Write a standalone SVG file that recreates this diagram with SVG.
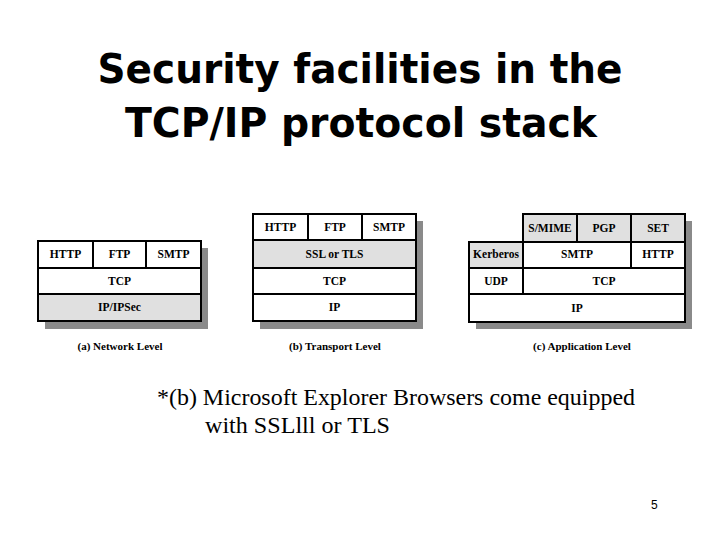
<svg xmlns="http://www.w3.org/2000/svg" width="720" height="540" viewBox="0 0 720 540">
<style>
.title{font-family:"Comic Sans MS","DejaVu Sans",sans-serif;font-weight:bold;font-size:40px;fill:#000;text-anchor:middle}
.cell{fill:#fff;stroke:#000;stroke-width:2}
.g{fill:#e0e0e0}
.shadow{fill:#8a8a8a}
.lbl{font-family:"Liberation Serif","Times New Roman",serif;font-weight:bold;font-size:11.5px;fill:#000;text-anchor:middle}
.cap{font-family:"Liberation Serif","Times New Roman",serif;font-weight:bold;font-size:11px;fill:#000;text-anchor:middle}
.body{font-family:"Liberation Serif","Times New Roman",serif;font-size:23px;fill:#000}
.num{font-family:"Liberation Sans",Arial,sans-serif;font-size:12px;fill:#000}
</style>
<rect width="720" height="540" fill="#fff"/>
<g id="title">
<text class="title" x="360" y="83" textLength="525" lengthAdjust="spacingAndGlyphs">Security facilities in the</text>
<text class="title" x="361" y="137" textLength="472" lengthAdjust="spacingAndGlyphs">TCP/IP protocol stack</text>
</g>
<g id="stack-a">
<rect class="shadow" x="45" y="248" width="163" height="81"/>
<rect class="cell" x="38" y="241" width="55" height="27"/>
<rect class="cell" x="93" y="241" width="53" height="27"/>
<rect class="cell" x="146" y="241" width="55" height="27"/>
<rect class="cell" x="38" y="268" width="163" height="26"/>
<rect class="cell g" x="38" y="294" width="163" height="27"/>
<text class="lbl" x="65.5" y="258">HTTP</text>
<text class="lbl" x="119.5" y="258">FTP</text>
<text class="lbl" x="173.5" y="258">SMTP</text>
<text class="lbl" x="119.5" y="285">TCP</text>
<text class="lbl" x="119.5" y="311">IP/IPSec</text>
<text class="cap" x="120" y="350">(a) Network Level</text>
</g>
<g id="stack-b">
<rect class="shadow" x="260" y="221" width="163" height="108"/>
<rect class="cell" x="253" y="214" width="55" height="26"/>
<rect class="cell" x="308" y="214" width="54" height="26"/>
<rect class="cell" x="362" y="214" width="54" height="26"/>
<rect class="cell g" x="253" y="240" width="163" height="28"/>
<rect class="cell" x="253" y="268" width="163" height="26"/>
<rect class="cell" x="253" y="294" width="163" height="27"/>
<text class="lbl" x="280.5" y="231">HTTP</text>
<text class="lbl" x="335" y="231">FTP</text>
<text class="lbl" x="389" y="231">SMTP</text>
<text class="lbl" x="334.5" y="258">SSL or TLS</text>
<text class="lbl" x="334.5" y="285">TCP</text>
<text class="lbl" x="334.5" y="311">IP</text>
<text class="cap" x="335" y="350">(b) Transport Level</text>
</g>
<g id="stack-c">
<rect class="shadow" x="530" y="221" width="162" height="108"/>
<rect class="shadow" x="476" y="249" width="216" height="80"/>
<rect class="cell g" x="523" y="214" width="54" height="28"/>
<rect class="cell g" x="577" y="214" width="54" height="28"/>
<rect class="cell g" x="631" y="214" width="54" height="28"/>
<rect class="cell g" x="469" y="242" width="54" height="26"/>
<rect class="cell" x="523" y="242" width="108" height="26"/>
<rect class="cell" x="631" y="242" width="54" height="26"/>
<rect class="cell" x="469" y="268" width="54" height="26"/>
<rect class="cell" x="523" y="268" width="162" height="26"/>
<rect class="cell" x="469" y="294" width="216" height="28"/>
<text class="lbl" x="550" y="232">S/MIME</text>
<text class="lbl" x="604" y="232">PGP</text>
<text class="lbl" x="658" y="232">SET</text>
<text class="lbl" x="496" y="258">Kerberos</text>
<text class="lbl" x="577" y="258">SMTP</text>
<text class="lbl" x="658" y="258">HTTP</text>
<text class="lbl" x="496" y="285">UDP</text>
<text class="lbl" x="604" y="285">TCP</text>
<text class="lbl" x="577" y="312">IP</text>
<text class="cap" x="582" y="350">(c) Application Level</text>
</g>
<g id="note">
<text class="body" x="157" y="405" textLength="478" lengthAdjust="spacingAndGlyphs">*(b) Microsoft Explorer Browsers come equipped</text>
<text class="body" x="205" y="433" textLength="185" lengthAdjust="spacingAndGlyphs">with SSLlll or TLS</text>
</g>
<text class="num" x="651" y="509">5</text>
</svg>
